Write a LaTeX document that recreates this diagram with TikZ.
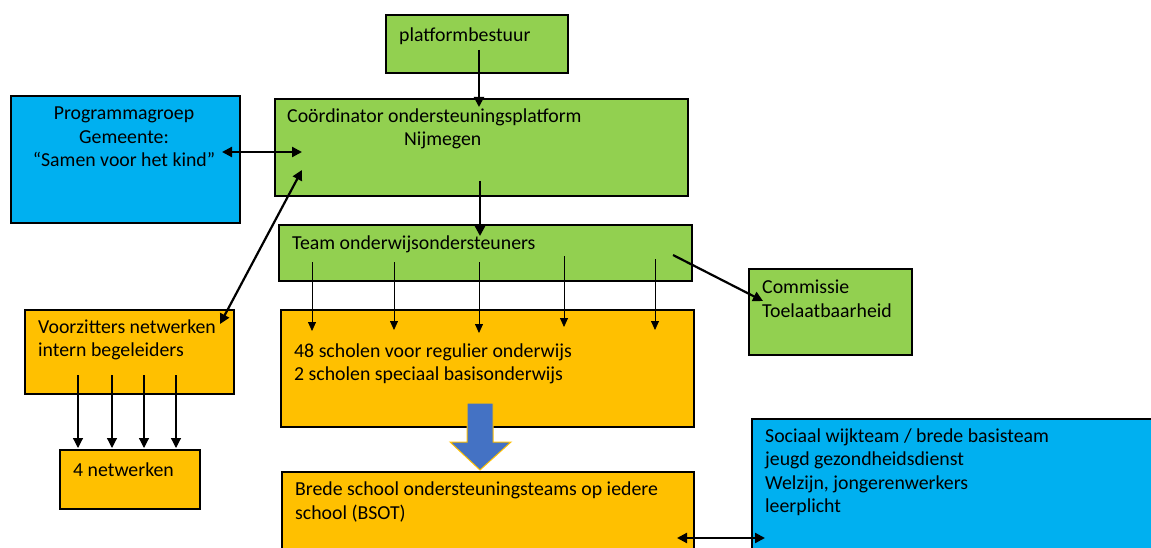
\documentclass[tikz,border=0pt]{standalone}
\usepackage{fontspec}
\setmainfont{Carlito}
\usetikzlibrary{calc,positioning,arrows.meta}
\definecolor{platgreen}{HTML}{92D050}
\definecolor{gemblue}{HTML}{00B0F0}
\definecolor{schoolorange}{HTML}{FFC000}
\definecolor{flowblue}{HTML}{4472C4}
\tikzset{
  box/.style={draw=black,line width=1.6pt,anchor=north west,inner sep=0pt},
  txt/.style={font=\fontsize{19.8}{23.5}\selectfont,inner sep=0pt,align=left,anchor=west},
  thick arrow/.style={line width=2.2pt,-{Triangle[length=10pt,width=10pt]}},
  both arrow/.style={line width=2.2pt,{Triangle[length=10pt,width=10pt]}-{Triangle[length=10pt,width=10pt]}},
  thin arrow/.style={line width=0.8pt,-{Triangle[length=9pt,width=8pt]}}
}
\begin{document}
\begin{tikzpicture}[x=1pt,y=-1pt]
    \clip (0,0) rectangle (1151,548);
    \fill[white] (0,0) rectangle (1151,548);
    % boxes
    \node[box,fill=platgreen,minimum width=182,minimum height=58] (bestuur) at (385,14) {};
    \node[box,fill=platgreen,minimum width=413,minimum height=97] (coord) at (274,98) {};
    \node[box,fill=gemblue,minimum width=229,minimum height=127] (gemeente) at (10,95) {};
    \node[box,fill=platgreen,minimum width=413,minimum height=56] (team) at (278,224) {};
    \node[box,fill=platgreen,minimum width=163,minimum height=86] (commissie) at (748,268) {};
    \node[box,fill=schoolorange,minimum width=413,minimum height=117] (scholen) at (280,309) {};
    \node[box,fill=schoolorange,minimum width=209,minimum height=84] (voorzitters) at (24,309) {};
    \node[box,fill=schoolorange,minimum width=140,minimum height=59] (netwerken) at (59,449) {};
    \node[box,fill=schoolorange,minimum width=412,minimum height=100] (bsot) at (281,471) {};
    \node[box,fill=gemblue,minimum width=420,minimum height=150] (wijkteam) at (751,418) {};
    % texts
    \node[txt] (bestuurtxt) at ($ (bestuur.north west) + (14,22) $) {platformbestuur};
    \node[txt] (coordtxt) at ($ (coord.north west) + (13,19) $) {Coördinator ondersteuningsplatform};
    \node[txt] (nijmegen) at ($ (coord.north west) + (130,42) $) {Nijmegen};
    \node[txt,align=center,anchor=center] (gemtxt) at (124,137) {Programmagroep\\Gemeente:\\“Samen voor het kind”};
    \node[txt] (teamtxt) at ($ (team.north west) + (14,20) $) {Team onderwijsondersteuners};
    \node[txt] (commtxt) at ($ (commissie.north west) + (14,31) $) {Commissie\\Toelaatbaarheid};
    \node[txt] (scholentxt) at ($ (scholen.north west) + (14,55) $) {48 scholen voor regulier onderwijs\\2 scholen speciaal basisonderwijs};
    \node[txt] (voorztxt) at ($ (voorzitters.north west) + (14,31) $) {Voorzitters netwerken\\intern begeleiders};
    \node[txt] (netwtxt) at ($ (netwerken.north west) + (14,21) $) {4 netwerken};
    \node[txt] (bsottxt) at ($ (bsot.north west) + (14,31) $) {Brede school ondersteuningsteams op iedere\\school (BSOT)};
    \node[txt] (wijktxt) at ($ (wijkteam.north west) + (14,54) $) {Sociaal wijkteam / brede basisteam\\jeugd gezondheidsdienst\\Welzijn, jongerenwerkers\\leerplicht};
    % connector ends
    \coordinate (bestuurout) at (479,50);
    \coordinate (coordin) at (479,107);
    \coordinate (coordout) at (480,181);
    \coordinate (teamin) at (480,236);
    \coordinate (gemport) at (222,152);
    \coordinate (coordleft) at (302,152);
    \coordinate (coordlow) at (302,170);
    \coordinate (voorzport) at (220,324);
    \coordinate (teamright) at (673,255);
    \coordinate (commin) at (763,301);
    \coordinate (bsotport) at (677,538);
    \coordinate (wijkport) at (765,538);
    % arrows
    \draw[thick arrow] (bestuurout) -- (coordin);
    \draw[thick arrow] (coordout) -- (teamin);
    \draw[both arrow] (gemport) -- (coordleft);
    \draw[both arrow] (voorzport) -- (coordlow);
    \draw[thick arrow] (teamright) -- (commin);
    \draw[both arrow] (bsotport) -- (wijkport);
    \foreach \x/\ya/\yb in {312/262/331,394/262/330,479/262/333,564/256/327,655/259/330}
        \draw[thin arrow] (\x,\ya) -- (\x,\yb);
    \foreach \x in {78,112,144,176}
        \draw[line width=1.2pt,-{Triangle[length=10pt,width=10pt]}] (\x,375) -- (\x,448);
    % block arrow
    \draw[fill=flowblue,draw=schoolorange,line width=1pt,line join=miter]
        (467,403) -- (493,403) -- (493,442) -- (511,442) -- (480,470)
        -- (450,442) -- (467,442) -- cycle;
\end{tikzpicture}
\end{document}
